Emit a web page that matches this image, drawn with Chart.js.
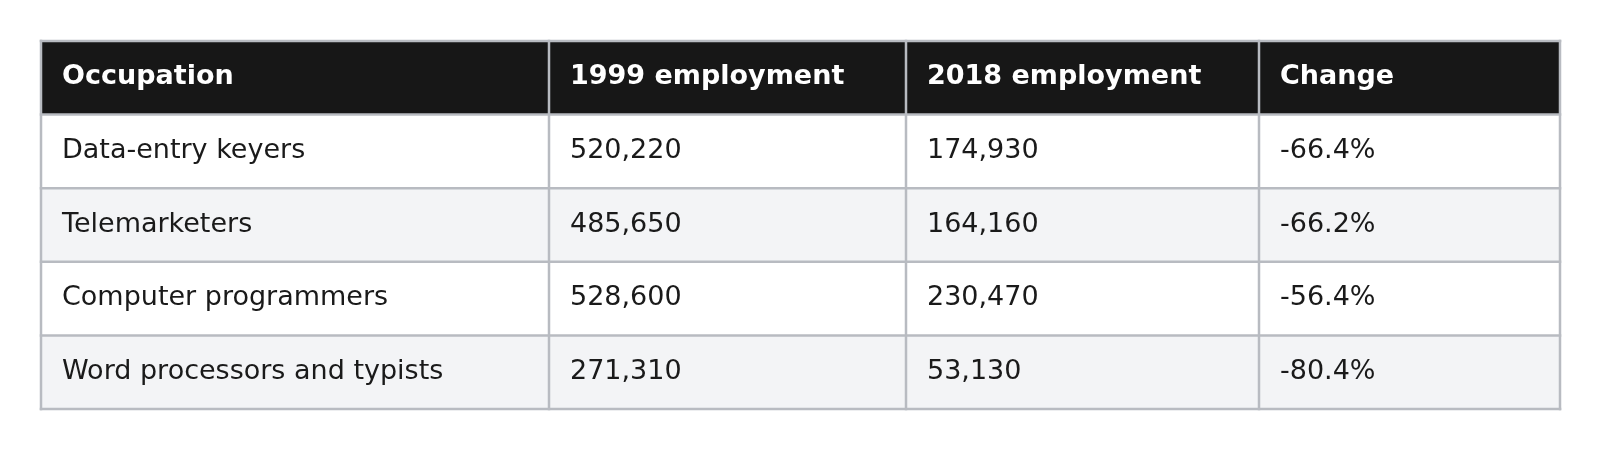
<!DOCTYPE html>
<html>
<head>
<meta charset="utf-8">
<script src="https://cdn.jsdelivr.net/npm/chart.js@4"></script>
<style>
  html, body { margin: 0; padding: 0; background: #fff; }
  #wrap { width: 1600px; height: 450px; }
</style>
</head>
<body>
<div id="wrap"><canvas id="tableChart" width="1600" height="450"></canvas></div>
<script>
// 表格数据
const headers = ['Occupation', '1999 employment', '2018 employment', 'Change'];
const occupations = ['Data-entry keyers', 'Telemarketers', 'Computer programmers', 'Word processors and typists'];
const employment1999 = [520220, 485650, 528600, 271310];
const employment2018 = [174930, 164160, 230470, 53130];
const changePct = [-66.4, -66.2, -56.4, -80.4];

// 列宽（布局用）
const colWidths = [508, 357, 353, 301];
const totalWidth = colWidths.reduce((a, b) => a + b, 0);

const rowLabels = ['header'].concat(occupations);

// 每个单元格的文字
function cellText(col, row) {
    if (row === 0) return headers[col];
    const i = row - 1;
    if (col === 0) return occupations[i];
    if (col === 1) return employment1999[i].toLocaleString('en-US');
    if (col === 2) return employment2018[i].toLocaleString('en-US');
    return changePct[i].toFixed(1) + '%';
}

function rowColor(row) {
    if (row === 0) return '#171717';
    return row % 2 === 1 ? '#ffffff' : '#f3f4f6';
}

let start = 0;
const datasets = colWidths.map((w, col) => {
    const s = start;
    start += w;
    return {
        label: headers[col],
        data: rowLabels.map(() => [s, s + w]),
        backgroundColor: rowLabels.map((_, r) => rowColor(r)),
        borderWidth: 0,
        grouped: false,
        barPercentage: 1,
        categoryPercentage: 1
    };
});

// 画文字和表格线
const tablePlugin = {
    id: 'tablePlugin',
    afterDatasetsDraw(chart) {
        const ctx = chart.ctx;
        const xs = chart.scales.x;
        const ys = chart.scales.y;

        ctx.save();
        ctx.textBaseline = 'alphabetic';
        ctx.textAlign = 'left';
        chart.data.datasets.forEach((ds, col) => {
            chart.getDatasetMeta(col).data.forEach((bar, row) => {
                const left = Math.min(bar.x, bar.base);
                ctx.font = row === 0 ? 'bold 27px "DejaVu Sans"' : '27px "DejaVu Sans"';
                ctx.fillStyle = row === 0 ? '#ffffff' : '#1a1a1a';
                ctx.fillText(cellText(col, row), left + 21, bar.y + 6.5);
            });
        });

        // 表格线
        ctx.strokeStyle = '#b8bbc1';
        ctx.lineWidth = 2.5;
        const top = ys.top, bottom = ys.bottom;
        let acc = 0;
        const bounds = [0];
        colWidths.forEach(w => { acc += w; bounds.push(acc); });
        bounds.forEach(v => {
            const px = xs.getPixelForValue(v);
            ctx.beginPath();
            ctx.moveTo(px, top - 1.25);
            ctx.lineTo(px, bottom + 1.25);
            ctx.stroke();
        });
        const n = rowLabels.length;
        for (let r = 0; r <= n; r++) {
            const py = top + (bottom - top) * r / n;
            ctx.beginPath();
            ctx.moveTo(xs.left - 1.25, py);
            ctx.lineTo(xs.right + 1.25, py);
            ctx.stroke();
        }
        ctx.restore();
    }
};

const ctx = document.getElementById('tableChart').getContext('2d');
const tableChart = new Chart(ctx, {
    type: 'bar',
    data: {
        labels: rowLabels,
        datasets: datasets
    },
    options: {
        indexAxis: 'y',
        responsive: false,
        animation: false,
        devicePixelRatio: 1,
        layout: {
            padding: { left: 41, right: 40, top: 41, bottom: 41 }
        },
        plugins: {
            legend: { display: false },
            tooltip: { enabled: false },
            title: { display: false }
        },
        scales: {
            x: {
                display: false,
                min: 0,
                max: totalWidth,
                grid: { display: false }
            },
            y: {
                display: false,
                grid: { display: false }
            }
        }
    },
    plugins: [tablePlugin]
});
</script>
</body>
</html>
